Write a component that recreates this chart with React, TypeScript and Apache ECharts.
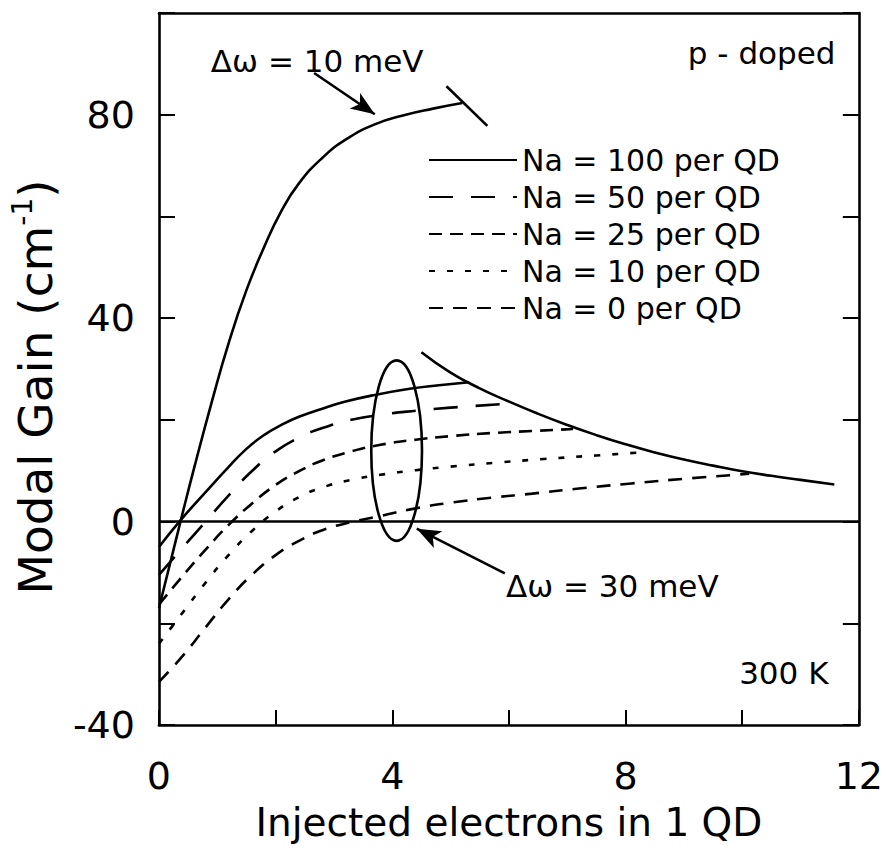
import React, { useEffect, useRef } from "react";
import * as echarts from "echarts";

// Axis tick labels
const xTickLabels = [0, 4, 8, 12];
const yTickLabels = [-40, 0, 40, 80];

const legendNames = [
  "Na = 100 per QD",
  "Na = 50 per QD",
  "Na = 25 per QD",
  "Na = 10 per QD",
  "Na = 0 per QD",
];

// Δω = 30 meV family: [injected electrons, modal gain]
const na100 = [
  [0, -5], [0.35, 0], [0.8, 5.8], [1.2, 10.8], [1.5, 14.3], [1.8, 17], [2.1, 19],
  [2.4, 20.6], [2.8, 22.2], [3.2, 23.6], [3.7, 24.9], [4.3, 26.1], [4.8, 26.8], [5.32, 27.4],
];
const na50 = [
  [0, -10.5], [0.4, -5.2], [0.8, 0], [1.2, 5.2], [1.6, 10], [2.0, 13.8], [2.4, 16.5],
  [2.8, 18.4], [3.3, 20], [3.8, 21], [4.4, 21.8], [5.0, 22.4], [5.9, 23.1],
];
const na25 = [
  [0, -16.3], [0.4, -10.8], [0.8, -5.5], [1.2, -0.6], [1.6, 3.6], [2.0, 7.2], [2.4, 9.9],
  [2.8, 12], [3.3, 13.8], [3.8, 15.1], [4.4, 16.1], [5.0, 16.8], [5.7, 17.4], [6.4, 17.8],
  [7.1, 18.2],
];
const na10 = [
  [0, -24], [0.4, -18], [0.8, -12], [1.2, -6.5], [1.6, -1.8], [2.0, 2], [2.4, 4.8],
  [2.8, 6.7], [3.3, 8.2], [3.8, 9.2], [4.4, 10.1], [5.0, 10.8], [5.8, 11.6], [6.6, 12.3],
  [7.5, 13], [8.39, 13.7],
];
const na0 = [
  [0, -31.5], [0.4, -26.5], [0.8, -20.8], [1.2, -15.2], [1.6, -10.4], [2.0, -6.6],
  [2.4, -3.8], [2.8, -1.7], [3.3, -0.1], [3.8, 1.1], [4.4, 2.6], [5.0, 3.7], [5.7, 4.7],
  [6.4, 5.5], [7.2, 6.5], [8.1, 7.5], [9.1, 8.5], [10.12, 9.4],
];

// Δω = 10 meV, Na = 100 per QD
const gain10meV = [
  [0, -17], [0.2, -7.8], [0.4, 1.4], [0.6, 10.4], [0.9, 23.3], [1.2, 35.3], [1.5, 45.5],
  [1.8, 53.9], [2.1, 61.1], [2.4, 66.5], [2.8, 71.5], [3.2, 75.1], [3.7, 78.1],
  [4.2, 79.9], [4.7, 81.2], [5.2, 82.3],
];
// axis-break stroke across the end of the 10 meV curve
const breakStroke = [[4.93, 85.6], [5.63, 77.8]];

// continuation of the 10 meV curve at high injection
const gainTail = [
  [4.5, 33.3], [5.0, 29.3], [5.5, 26.2], [6.0, 23.6], [6.5, 21.2], [7.0, 19], [7.5, 17],
  [8.0, 15.2], [8.5, 13.6], [9.0, 12.2], [9.5, 11], [10.0, 9.9], [10.5, 9], [11.0, 8.2],
  [11.58, 7.3],
];

const zeroLine = [[0, 0], [12, 0]];

// annotation arrows: [tail, head]
const arrow10meV = [[2.66, 88.2], [3.7, 80.1]];
const arrow30meV = [[5.93, -10.2], [4.42, -1.4]];

// extent of the ellipse grouping the 30 meV curves: [xMin, xMax, yMin, yMax]
const ellipseExtent = [3.64, 4.51, -3.8, 31.7];

const FONT = "DejaVu Sans";

export default function App() {
  const ref = useRef<HTMLDivElement>(null);

  useEffect(() => {
    const el = ref.current!;
    const chart = echarts.init(el, null, { renderer: "svg" });

    const curve = (name: string, data: number[][], dash: any, smooth: any = 0.5) => ({
      name,
      type: "line",
      data,
      symbol: "none",
      showSymbol: false,
      smooth,
      silent: true,
      lineStyle: { color: "#000", width: 2.6, type: dash, cap: "butt" },
      itemStyle: { color: "#000", opacity: 0 },
      z: 3,
    });

    const axisLine = { show: true, onZero: false, lineStyle: { color: "#000", width: 2.6 } };

    chart.setOption({
      animation: false,
      backgroundColor: "#fff",
      textStyle: { fontFamily: FONT, color: "#000" },
      grid: { left: 150, right: 22, top: 13, bottom: 140, containLabel: false },
      xAxis: [
        {
          type: "value",
          min: 0,
          max: 12,
          interval: 2,
          position: "bottom",
          axisLine,
          splitLine: { show: false },
          axisTick: { show: true, inside: true, length: 15, lineStyle: { color: "#000", width: 2 } },
          axisLabel: {
            fontSize: 38,
            fontFamily: FONT,
            color: "#000",
            margin: 32,
            formatter: (v: number) => (xTickLabels.includes(v) ? String(v) : ""),
          },
          name: "Injected electrons in 1 QD",
          nameLocation: "middle",
          nameGap: 78,
          nameTextStyle: { fontSize: 39, fontFamily: FONT, color: "#000" },
        },
        {
          type: "value",
          min: 0,
          max: 12,
          interval: 2,
          position: "top",
          axisLine,
          splitLine: { show: false },
          axisTick: { show: false },
          axisLabel: { show: false },
        },
      ],
      yAxis: [
        {
          type: "value",
          min: -40,
          max: 100,
          interval: 20,
          position: "left",
          axisLine,
          splitLine: { show: false },
          axisTick: { show: true, inside: true, length: 16, lineStyle: { color: "#000", width: 2 } },
          axisLabel: {
            fontSize: 38,
            fontFamily: FONT,
            color: "#000",
            margin: 24,
            formatter: (v: number) => (yTickLabels.includes(v) ? String(v) : ""),
          },
          name: "Modal Gain (cm{sup|-1})",
          nameLocation: "middle",
          nameRotate: 90,
          nameGap: 90,
          nameTextStyle: {
            fontSize: 47,
            lineHeight: 54,
            fontFamily: FONT,
            color: "#000",
            padding: [0, 36, 0, 0],
            rich: {
              sup: { fontSize: 28, lineHeight: 28, verticalAlign: "top", fontFamily: FONT, color: "#000" },
            },
          },
        },
        {
          type: "value",
          min: -40,
          max: 100,
          interval: 20,
          position: "right",
          axisLine,
          splitLine: { show: false },
          axisTick: { show: true, inside: true, length: 16, lineStyle: { color: "#000", width: 2 } },
          axisLabel: { show: false },
        },
      ],
      legend: {
        data: legendNames,
        orient: "vertical",
        left: 423,
        top: 140,
        itemWidth: 88,
        itemHeight: 30,
        itemGap: 7,
        selectedMode: false,
        itemStyle: { opacity: 0, borderWidth: 0 },
        textStyle: { fontSize: 30, lineHeight: 30, fontFamily: FONT, color: "#000" },
      },
      series: [
        {
          name: "zero",
          type: "line",
          data: zeroLine,
          symbol: "none",
          silent: true,
          lineStyle: { color: "#000", width: 2.4 },
          z: 2,
          markLine: {
            silent: true,
            symbol: ["none", "arrow"],
            symbolSize: [14, 24],
            label: { show: false },
            lineStyle: { color: "#000", width: 2.6, type: "solid" },
            data: [
              [{ coord: arrow10meV[0] }, { coord: arrow10meV[1] }],
              [{ coord: arrow30meV[0] }, { coord: arrow30meV[1] }],
            ],
          },
        },
        curve(legendNames[0], na100, "solid"),
        curve(legendNames[1], na50, [24, 18]),
        curve(legendNames[2], na25, [13, 8]),
        curve(legendNames[3], na10, [6, 12]),
        curve(legendNames[4], na0, [14, 10]),
        curve("Δω = 10 meV", gain10meV, "solid"),
        curve("high injection", gainTail, "solid"),
        curve("break", breakStroke, "solid", false),
      ],
    });

    const px = (p: number[]) => chart.convertToPixel({ seriesIndex: 0 }, p) as number[];
    const [x0, x1, y0, y1] = ellipseExtent;
    const eTL = px([x0, y1]);
    const eBR = px([x1, y0]);

    const note = (text: string, at: number[], align: string) => {
      const p = px(at);
      return {
        type: "text",
        x: p[0],
        y: p[1],
        z: 10,
        silent: true,
        style: {
          text,
          fontSize: 31,
          fontFamily: FONT,
          fill: "#000",
          align,
          verticalAlign: "middle",
        },
      };
    };

    chart.setOption({
      graphic: [
        {
          type: "ellipse",
          silent: true,
          z: 10,
          shape: {
            cx: (eTL[0] + eBR[0]) / 2,
            cy: (eTL[1] + eBR[1]) / 2,
            rx: (eBR[0] - eTL[0]) / 2,
            ry: (eBR[1] - eTL[1]) / 2,
          },
          style: { fill: "none", stroke: "#000", lineWidth: 2.6 },
        },
        note("Δω = 10 meV", [0.89, 90.6], "left"),
        note("p - doped", [11.6, 92.2], "right"),
        note("Δω = 30 meV", [5.95, -12.7], "left"),
        note("300 K", [11.48, -29.8], "right"),
      ],
    });

    return () => chart.dispose();
  }, []);

  return (
    <div
      ref={ref}
      style={{ position: "fixed", left: 0, top: 0, width: 886, height: 865, background: "#fff" }}
    />
  );
}
